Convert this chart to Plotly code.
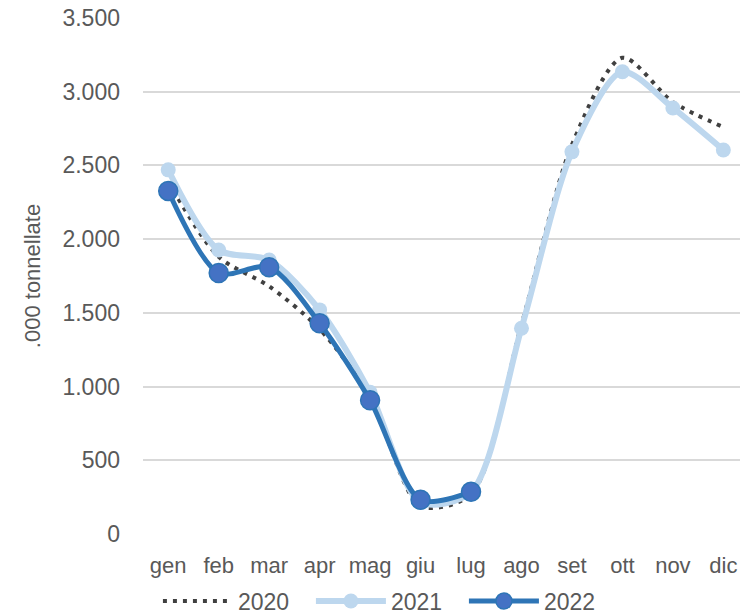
import plotly.graph_objects as go

mesi = ["gen", "feb", "mar", "apr", "mag", "giu", "lug", "ago", "set", "ott", "nov", "dic"]
val_2020 = [2390, 1880, 1680, 1390, 930, 190, 270, 1420, 2640, 3230, 2930, 2760]
val_2021 = [2470, 1926, 1858, 1520, 961, 215, 285, 1396, 2592, 3135, 2890, 2605]
val_2022 = [2327, 1770, 1810, 1430, 907, 232, 286]

GRIGIO = "#595959"
FONT = "Liberation Sans, Arial, sans-serif"

fig = go.Figure()
fig.add_trace(go.Scatter(
    x=mesi, y=val_2020, name="2020", mode="lines",
    line=dict(color="#404040", width=4, dash="4px,6px", shape="spline", smoothing=0.8),
))
fig.add_trace(go.Scatter(
    x=mesi, y=val_2021, name="2021", mode="lines+markers",
    line=dict(color="#BDD7EE", width=6, shape="spline", smoothing=0.8),
    marker=dict(size=15, color="#BDD7EE"),
))
fig.add_trace(go.Scatter(
    x=mesi[:len(val_2022)], y=val_2022, name="2022", mode="lines+markers",
    line=dict(color="#2E75B6", width=5, shape="spline", smoothing=0.8),
    marker=dict(size=19, color="#4472C4", line=dict(color="#2E75B6", width=1.5)),
))

fig.update_layout(
    width=740, height=615,
    margin=dict(l=143, r=0, t=18, b=81, autoexpand=False),
    separators=",.",
    font=dict(family=FONT, size=22, color=GRIGIO),
    paper_bgcolor="white", plot_bgcolor="white",
    legend=dict(
        orientation="h", x=0.025, xanchor="left", y=-0.13, yanchor="middle",
        itemwidth=70, entrywidth=68, font=dict(size=23, color=GRIGIO),
    ),
    xaxis=dict(
        range=[-0.5, 11.33], showgrid=False, showline=False, ticks="",
        tickfont=dict(size=22), automargin=False, ticklabelstandoff=16,
    ),
    yaxis=dict(
        range=[0, 3500], dtick=500, tickformat=",d",
        gridcolor="#D9D9D9", gridwidth=1.5, zeroline=False,
        ticklabelstandoff=22, automargin=False, tickfont=dict(size=23),
        ticklabeloverflow="allow",
        title=dict(text=".000 tonnellate", font=dict(size=22)),
    ),
)

# niente margine del body: la figura occupa tutta la finestra
fig.write_html(
    "out.html",
    config={"displayModeBar": False},
    post_script="document.body.style.margin = '0';",
)
